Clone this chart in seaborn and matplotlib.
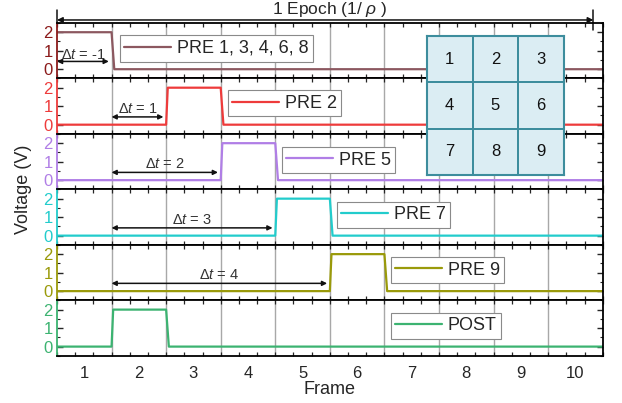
import numpy as np
import pandas as pd
import matplotlib
matplotlib.use("Agg")
import matplotlib.pyplot as plt
from matplotlib.colors import ListedColormap
import seaborn as sns

# ---------------- data ----------------
labels = ["PRE 1, 3, 4, 6, 8", "PRE 2", "PRE 5", "PRE 7", "PRE 9", "POST"]
t_pre1 = [0.5, 1.5, 1.55, 10.5]
v_pre1 = [2, 2, 0, 0]
t_pre2 = [0.5, 2.5, 2.53, 3.5, 3.55, 10.5]
v_pre2 = [0, 0, 2, 2, 0, 0]
t_pre5 = [0.5, 3.5, 3.53, 4.5, 4.55, 10.5]
v_pre5 = [0, 0, 2, 2, 0, 0]
t_pre7 = [0.5, 4.5, 4.53, 5.5, 5.55, 10.5]
v_pre7 = [0, 0, 2, 2, 0, 0]
t_pre9 = [0.5, 5.5, 5.53, 6.5, 6.55, 10.5]
v_pre9 = [0, 0, 2, 2, 0, 0]
t_post = [0.5, 1.5, 1.53, 2.5, 2.55, 10.5]
v_post = [0, 0, 2, 2, 0, 0]
times = [t_pre1, t_pre2, t_pre5, t_pre7, t_pre9, t_post]
volts = [v_pre1, v_pre2, v_pre5, v_pre7, v_pre9, v_post]

# delta-t annotations per panel (POST has none)
dt_start = [0.5, 1.5, 1.5, 1.5, 1.5]
dt_end = [1.45, 2.45, 3.45, 4.45, 5.45]
dt_text = ["-1", "1", "2", "3", "4"]

frame_ticks = list(range(1, 11))
grid_x = [1.5, 2.5, 3.5, 4.5, 5.5, 6.5, 7.5, 8.5, 9.5]
y_ticks = [0, 1, 2]
cell_labels = [["1", "2", "3"], ["4", "5", "6"], ["7", "8", "9"]]

# ---------------- style ----------------
sns.set_theme(style="white")
plt.rcParams["font.family"] = ["Liberation Sans", "DejaVu Sans"]
plt.rcParams["mathtext.fontset"] = "custom"
plt.rcParams["mathtext.rm"] = "Liberation Sans"
plt.rcParams["mathtext.it"] = "Liberation Sans:italic"

line_colors = ["#8c5860", "#ee3b3b", "#b07ee6", "#22cccc", "#9a9a0a", "#3cb371"]
tick_colors = ["#8b1a1a", "#ee3b3b", "#b07ee6", "#22cccc", "#9a9a0a", "#3cb371"]
leg_x = [0.115, 0.313, 0.412, 0.513, 0.612, 0.612]
leg_y = [0.54, 0.55, 0.53, 0.54, 0.545, 0.54]

fig, axes = plt.subplots(6, 1, figsize=(6.22, 4.03), dpi=100, sharex=True)
fig.subplots_adjust(left=0.0916, right=0.969, top=0.943, bottom=0.117, hspace=0)

minor_x = [0.5 + n / 3 for n in range(31)]

for i, ax in enumerate(axes):
    df = pd.DataFrame({"Frame": times[i], "Voltage": volts[i]})
    sns.lineplot(data=df, x="Frame", y="Voltage", ax=ax, color=line_colors[i],
                 linewidth=1.6, label=labels[i], estimator=None, sort=False)
    for gx in grid_x:
        ax.axvline(gx, color="#a8a8a8", lw=1.0, zorder=0)
    ax.set_xlim(0.5, 10.5)
    ax.set_ylim(-0.5, 2.5)
    ax.set_yticks(y_ticks)
    ax.set_yticks([-0.5, 0.5, 1.5, 2.5], minor=True)
    ax.set_xticks(frame_ticks)
    ax.set_xticks(minor_x, minor=True)
    ax.tick_params(axis="y", which="major", direction="in", length=4, width=1,
                   left=True, right=True, labelsize=12, labelcolor=tick_colors[i], pad=3)
    ax.tick_params(axis="y", which="minor", direction="in", length=2.5, width=0.8,
                   left=True, right=True)
    ax.tick_params(axis="x", which="major", length=0, labelsize=12, pad=7)
    ax.tick_params(axis="x", which="minor", direction="in", length=3, width=0.9,
                   top=True, bottom=True)
    for s in ["top", "bottom", "right"]:
        ax.spines[s].set_color("black")
        ax.spines[s].set_linewidth(1.3)
    ax.spines["left"].set_color(tick_colors[i])
    ax.spines["left"].set_linewidth(1.3)
    ax.set_ylabel("")
    ax.set_xlabel("")
    leg = ax.legend(loc="center left", bbox_to_anchor=(leg_x[i], leg_y[i]),
                    fontsize=13, frameon=True, fancybox=False, framealpha=1,
                    edgecolor="#8a8a8a", borderaxespad=0, borderpad=0.25,
                    handlelength=2.6, handletextpad=0.3)
    leg.get_frame().set_linewidth(0.8)
    if i < len(dt_text):
        ax.annotate("", xy=(dt_end[i], 0.42), xytext=(dt_start[i], 0.42),
                    arrowprops=dict(arrowstyle="<|-|>", mutation_scale=7, lw=1.1,
                                    color="#111111", shrinkA=0, shrinkB=0))
        ty = 0.78 if i == 0 else 0.86
        ax.text((dt_start[i] + dt_end[i]) / 2, ty, r"$\Delta t$ = " + dt_text[i],
                ha="center", va="center", fontsize=10.5, color="#333333")

axes[-1].set_xlabel("Frame", fontsize=13, labelpad=0)
axes[-1].set_xticklabels([str(v) for v in frame_ticks])
fig.text(0.037, 0.53, "Voltage (V)", rotation=90, ha="center", va="center", fontsize=13)

# Epoch arrow on top
top = axes[0]
tr = top.get_xaxis_transform()
top.annotate("", xy=(10.33, 1.054), xytext=(0.5, 1.054), xycoords=tr, textcoords=tr,
             arrowprops=dict(arrowstyle="<|-|>", mutation_scale=8, lw=1.1,
                             color="#111111", shrinkA=0, shrinkB=0), annotation_clip=False)
top.plot([0.5, 0.5], [1.0, 1.23], transform=tr, color="#111111", lw=1.1, clip_on=False)
top.plot([10.33, 10.33], [0.87, 1.23], transform=tr, color="#111111", lw=1.1, clip_on=False)
top.text(5.5, 1.08, r"1 Epoch (1/ $\rho$ )", transform=tr, ha="center", va="bottom",
         fontsize=12.5)

# 3x3 inset table
ins = fig.add_axes([0.686, 0.566, 0.221, 0.345])
sns.heatmap(np.zeros((3, 3)), ax=ins, cmap=ListedColormap(["#dbedf3"]), cbar=False,
            annot=np.array(cell_labels), fmt="", linewidths=1.2, linecolor="#3d8d9d",
            annot_kws=dict(size=12, color="#111111"))
ins.set_xticks([])
ins.set_yticks([])
for s in ins.spines.values():
    s.set_visible(True)
    s.set_color("#3d8d9d")
    s.set_linewidth(1.5)

fig.savefig("out.png", dpi=100)
